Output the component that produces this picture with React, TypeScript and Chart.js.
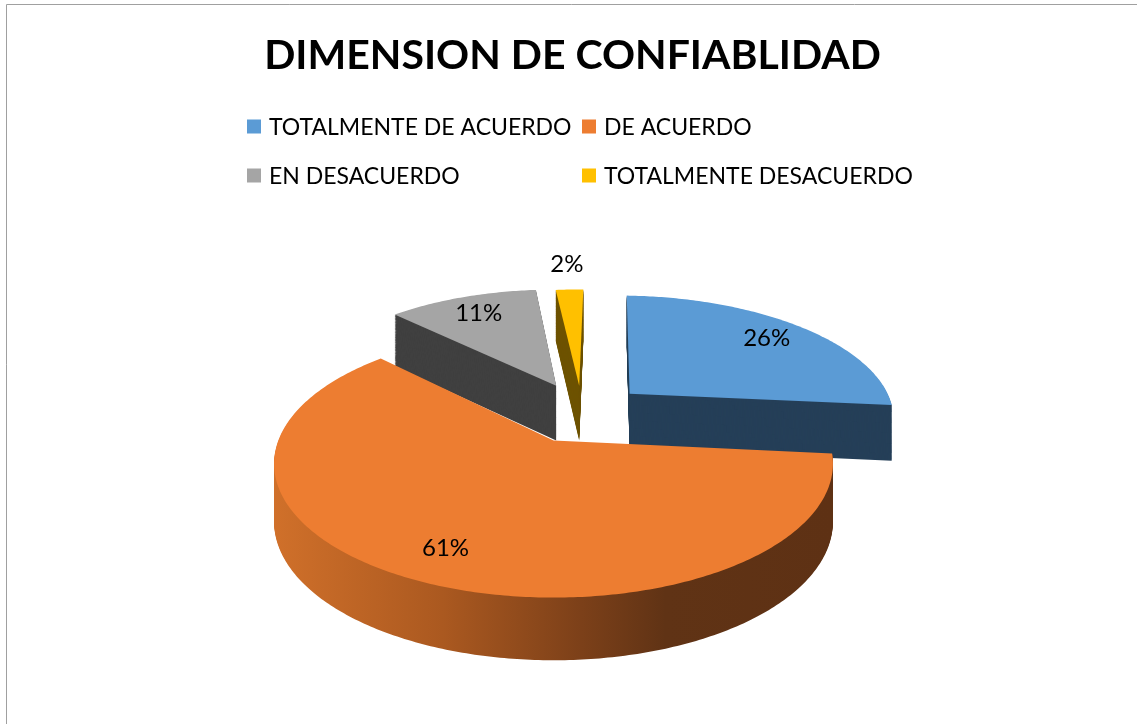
import React, { useEffect, useRef } from "react";
import { Chart, registerables } from "chart.js";

Chart.register(...registerables);

const TITLE = "DIMENSION DE CONFIABLIDAD";
const CATEGORIES = ["TOTALMENTE DE ACUERDO", "DE ACUERDO", "EN DESACUERDO", "TOTALMENTE DESACUERDO"];
const VALUES = [26, 61, 11, 2];
const TOP_COLORS = ["#5B9BD5", "#ED7D31", "#A5A5A5", "#FFC000"];
const SIDE_COLORS: (string | [number, string][])[] = [
  "#253F58",
  [
    [0, "#d0702a"],
    [0.3, "#ab5920"],
    [0.55, "#7c4019"],
    [0.7, "#603315"],
    [1, "#5e3114"],
  ],
  "#404040",
  "#6E5300",
];

const FONT = "Lato, 'Open Sans', sans-serif";

const framePlugin = {
  id: "frame",
  beforeDraw(chart: any) {
    const ctx = chart.ctx;
    ctx.save();
    ctx.fillStyle = "#ffffff";
    ctx.fillRect(0, 0, chart.width, chart.height);
    ctx.strokeStyle = "#a0a0a0";
    ctx.lineWidth = 1;
    ctx.beginPath();
    ctx.moveTo(6.5, chart.height);
    ctx.lineTo(6.5, 4.5);
    ctx.lineTo(chart.width, 4.5);
    ctx.stroke();
    ctx.restore();
  },
};

const pie3dPlugin = {
  id: "pie3d",
  beforeDatasetsDraw(chart: any, _args: any, opts: any) {
    const ctx: CanvasRenderingContext2D = chart.ctx;
    const meta = chart.getDatasetMeta(0);
    const arcs: any[] = meta.data;
    if (!arcs.length) return false;
    const R = arcs[0].outerRadius;
    const CX = arcs[0].x + opts.shiftX;
    const CY = arcs[0].y + opts.shiftY;
    const c = opts.perspective;
    const ay = opts.tilt;
    const bx = opts.xScale;
    const depth = opts.depth;
    const explode: number[][] = opts.explode;

    const proj = (X: number, Y: number, z: number) => {
      const s = 1 / (1 - (c * Y) / R);
      return [CX + X * s * bx, CY + Y * s * ay + z * Math.sqrt(s)];
    };

    const path = (i: number, z: number) => {
      const a = arcs[i];
      const [ex, ey] = explode[i];
      const start = a.startAngle;
      const end = a.endAngle;
      const n = Math.max(8, Math.ceil((end - start) / (Math.PI / 240)));
      ctx.beginPath();
      let p = proj(ex, ey, z);
      ctx.moveTo(p[0], p[1]);
      let minX = p[0];
      let maxX = p[0];
      for (let k = 0; k <= n; k++) {
        const t = start + ((end - start) * k) / n;
        p = proj(ex + R * Math.cos(t), ey + R * Math.sin(t), z);
        ctx.lineTo(p[0], p[1]);
        minX = Math.min(minX, p[0]);
        maxX = Math.max(maxX, p[0]);
      }
      ctx.closePath();
      return [minX, maxX];
    };

    const order = arcs.map((_a, i) => i).sort((i, j) => explode[i][1] - explode[j][1]);
    ctx.save();
    for (const i of order) {
      const [minX, maxX] = path(i, 0);
      const sc = SIDE_COLORS[i];
      let side: any = sc;
      if (Array.isArray(sc)) {
        const g = ctx.createLinearGradient(minX, 0, maxX, 0);
        sc.forEach(([o, col]) => g.addColorStop(o, col));
        side = g;
      }
      ctx.fillStyle = side;
      for (let z = depth; z > 0; z -= 1) {
        path(i, z);
        ctx.fill();
      }
      path(i, 0);
      ctx.fillStyle = arcs[i].options.backgroundColor;
      ctx.fill();
    }

    // percentage labels
    const data: number[] = chart.data.datasets[0].data;
    const total = data.reduce((s, v) => s + v, 0);
    ctx.fillStyle = "#000000";
    ctx.font = `24px ${FONT}`;
    ctx.textAlign = "center";
    ctx.textBaseline = "middle";
    arcs.forEach((a, i) => {
      const pct = Math.round((data[i] / total) * 100);
      const mid = (a.startAngle + a.endAngle) / 2;
      const f = pct < 5 ? opts.outsideLabel : opts.insideLabel;
      const [ex, ey] = explode[i];
      const p = proj(ex + f * R * Math.cos(mid), ey + f * R * Math.sin(mid), 0);
      ctx.fillText(pct + "%", p[0], p[1]);
    });
    ctx.restore();
    return false;
  },
};

const gridLegendPlugin = {
  id: "gridLegend",
  afterDraw(chart: any, _args: any, opts: any) {
    const ctx: CanvasRenderingContext2D = chart.ctx;
    const labels: string[] = chart.data.labels;
    const colors: string[] = chart.data.datasets[0].backgroundColor;
    ctx.save();
    ctx.font = `23px ${FONT}`;
    ctx.textBaseline = "middle";
    ctx.textAlign = "left";
    labels.forEach((lab, i) => {
      const col = i % 2;
      const row = Math.floor(i / 2);
      const x = opts.cols[col];
      const y = opts.rows[row];
      ctx.fillStyle = colors[i];
      ctx.fillRect(x, y - opts.box / 2, opts.box, opts.box);
      ctx.fillStyle = "#000000";
      ctx.fillText(lab, x + opts.box + 8, y + 1);
    });
    ctx.restore();
  },
};

export default function App() {
  const ref = useRef<HTMLCanvasElement | null>(null);
  useEffect(() => {
    document.body.style.margin = "0";
    if (!ref.current) return;
    const chart = new Chart(ref.current, {
      type: "pie",
      data: {
        labels: CATEGORIES,
        datasets: [
          {
            data: VALUES,
            backgroundColor: TOP_COLORS,
            borderWidth: 0,
          },
        ],
      },
      plugins: [framePlugin, pie3dPlugin, gridLegendPlugin],
      options: {
        animation: false,
        responsive: false,
        events: [],
        rotation: 2,
        radius: 278,
        layout: { padding: { left: 8, right: 0, top: 0, bottom: 0 } },
        plugins: {
          legend: { display: false },
          tooltip: { enabled: false },
          title: {
            display: true,
            text: TITLE,
            color: "#000000",
            font: { family: FONT, size: 41, weight: "bold" },
            padding: { top: 31, bottom: 77 },
          },
          pie3d: {
            shiftX: -19,
            shiftY: 0,
            perspective: 0.173,
            tilt: 0.467,
            xScale: 0.99,
            depth: 57,
            explode: [
              [82, -107],
              [0, 0],
              [3, -127],
              [28, -127],
            ],
            insideLabel: 0.8,
            outsideLabel: 1.32,
          },
          gridLegend: {
            cols: [247, 582],
            rows: [126.5, 175.5],
            box: 14,
          },
        } as any,
      },
    });
    return () => chart.destroy();
  }, []);
  return (
    <div style={{ position: "absolute", left: 0, top: 0, width: 1137, height: 724 }}>
      <canvas ref={ref} width={1137} height={724} style={{ width: 1137, height: 724, display: "block" }} />
    </div>
  );
}
